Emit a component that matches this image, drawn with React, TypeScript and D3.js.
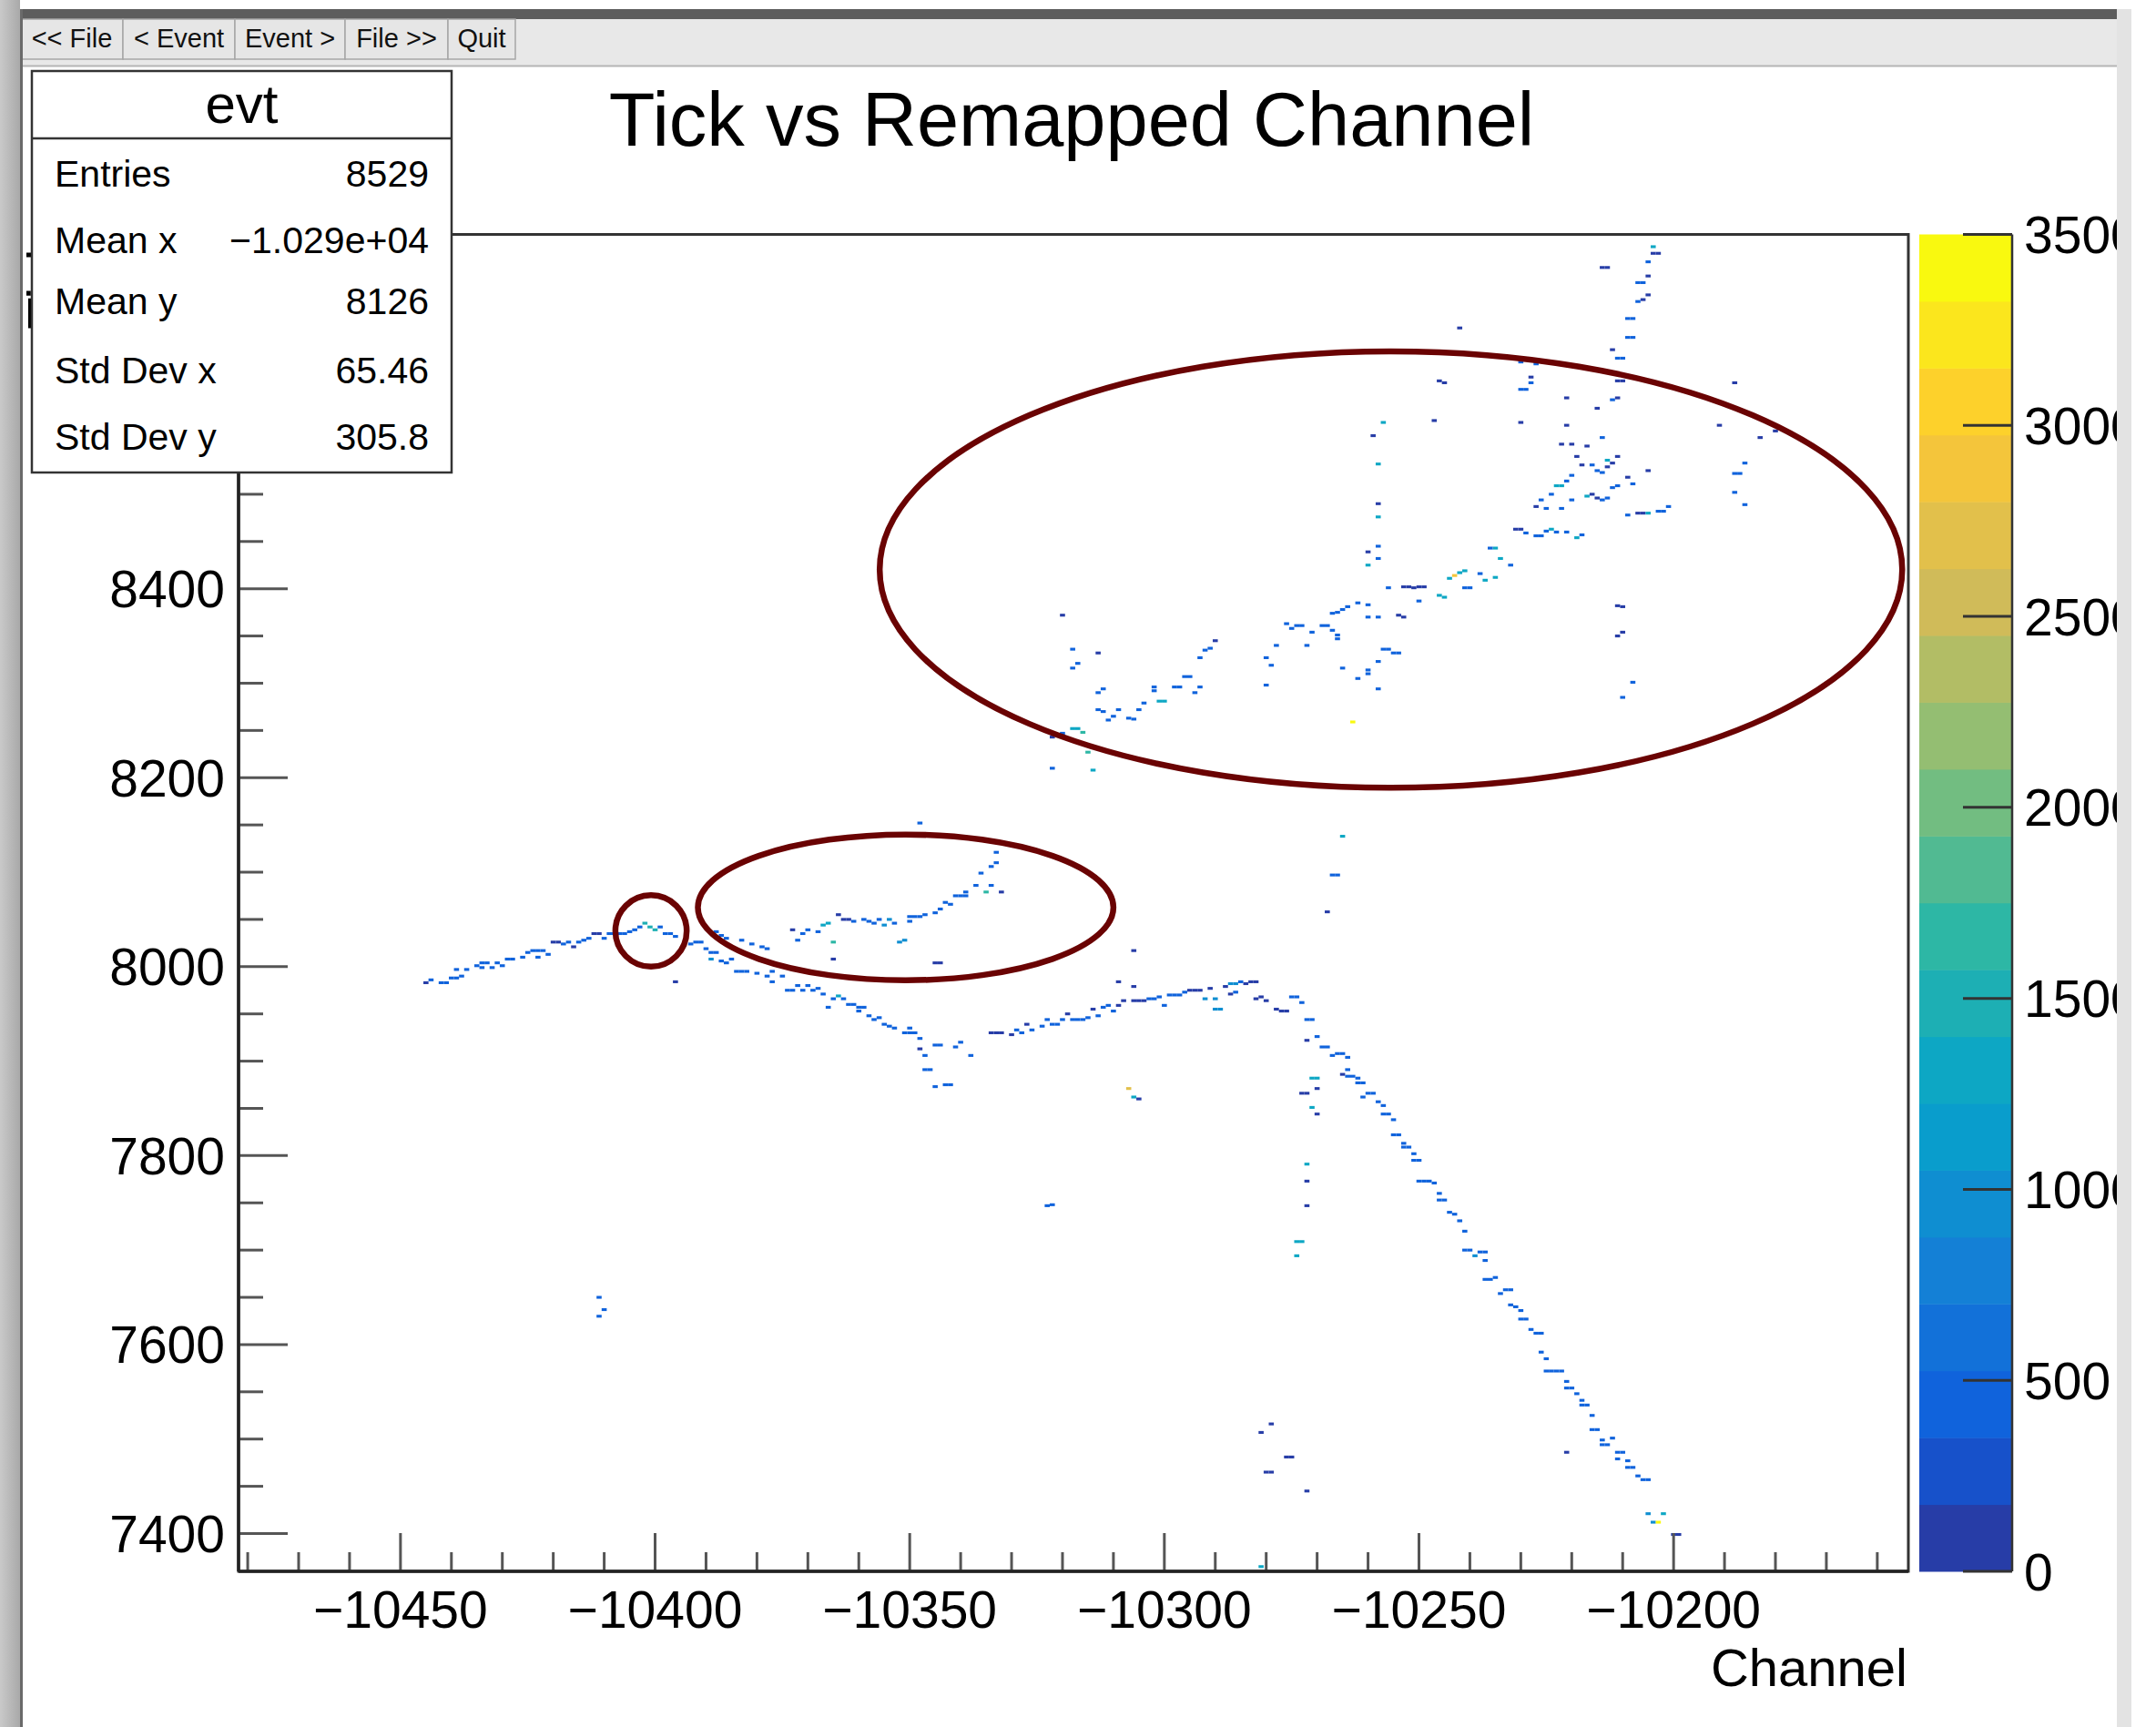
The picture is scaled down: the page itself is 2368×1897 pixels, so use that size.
import React from 'react';
import * as d3 from 'd3';

type Cell = [number, number, number]; // [channel, tick, summed ADC]

// Rising part of the induction track on the left, up to the kink
const leftTrack: Cell[] = [
  [-10445, 7983, 120], [-10444, 7986, 500], [-10442, 7983, 500], [-10441, 7983, 500],
  [-10440, 7988, 500], [-10439, 7988, 500], [-10439, 7997, 500], [-10438, 7990, 500],
  [-10437, 7997, 500], [-10435, 8001, 500], [-10434, 7999, 500], [-10434, 8004, 500],
  [-10433, 8004, 500], [-10432, 7999, 500], [-10431, 8004, 500], [-10430, 8001, 500],
  [-10429, 8008, 500], [-10428, 8008, 500], [-10426, 8010, 500], [-10425, 8015, 500],
  [-10424, 8017, 500], [-10423, 8010, 500], [-10423, 8017, 500], [-10422, 8017, 500],
  [-10421, 8013, 500], [-10420, 8026, 120], [-10419, 8026, 120], [-10418, 8024, 500],
  [-10417, 8026, 500], [-10416, 8021, 120], [-10415, 8026, 500], [-10414, 8028, 500],
  [-10413, 8030, 500], [-10412, 8035, 120], [-10411, 8035, 120], [-10410, 8030, 500],
  [-10409, 8035, 500], [-10408, 8035, 500], [-10407, 8035, 500], [-10406, 8035, 500],
  [-10405, 8037, 500], [-10404, 8039, 500], [-10403, 8042, 500], [-10402, 8046, 1500],
  [-10401, 8042, 1500], [-10400, 8039, 1500], [-10399, 8042, 500], [-10398, 8035, 500],
  [-10397, 8035, 500], [-10396, 8032, 500], [-10393, 8024, 500], [-10392, 8026, 500],
  [-10391, 8026, 500], [-10390, 8019, 500], [-10389, 8015, 500], [-10388, 8015, 500],
  [-10389, 8008, 950], [-10387, 8006, 500], [-10386, 8004, 500], [-10385, 8008, 500],
  [-10388, 8037, 500], [-10387, 8033, 500], [-10386, 8030, 500], [-10383, 8028, 500],
  [-10381, 8024, 500], [-10379, 8021, 500], [-10378, 8019, 500],
];

// Falling section between the kink and the valley
const descendingTrack: Cell[] = [
  [-10384, 7995, 500], [-10383, 7995, 500], [-10382, 7995, 500], [-10380, 7993, 500],
  [-10378, 7990, 500], [-10377, 7995, 500], [-10375, 7990, 500], [-10377, 7984, 500],
  [-10374, 7975, 500], [-10373, 7975, 500], [-10372, 7980, 500], [-10371, 7975, 500],
  [-10370, 7980, 500], [-10369, 7975, 500], [-10368, 7977, 500], [-10367, 7971, 500],
  [-10366, 7957, 500], [-10365, 7966, 500], [-10364, 7969, 1300], [-10363, 7966, 500],
  [-10362, 7960, 500], [-10361, 7960, 500], [-10360, 7957, 500], [-10359, 7957, 500],
  [-10360, 7953, 500], [-10358, 7948, 500], [-10357, 7944, 500], [-10356, 7946, 500],
  [-10355, 7939, 500], [-10354, 7937, 500], [-10353, 7935, 500], [-10351, 7930, 500],
  [-10350, 7935, 500], [-10350, 7930, 500], [-10349, 7930, 500], [-10348, 7924, 500],
  [-10348, 7913, 120], [-10347, 7906, 500], [-10347, 7891, 500], [-10346, 7891, 500],
  [-10345, 7873, 500], [-10343, 7875, 500], [-10342, 7875, 500], [-10345, 7917, 500],
  [-10344, 7917, 500], [-10341, 7915, 500], [-10340, 7920, 500], [-10338, 7906, 500],
];

// Branch climbing inside the middle ellipse
const branchTrack: Cell[] = [
  [-10373, 8039, 120], [-10372, 8028, 500], [-10371, 8035, 500], [-10370, 8039, 500],
  [-10368, 8037, 500], [-10367, 8044, 1300], [-10366, 8046, 1300], [-10365, 8026, 1650],
  [-10365, 8008, 120], [-10364, 8055, 120], [-10363, 8050, 120], [-10362, 8050, 120],
  [-10361, 8048, 500], [-10359, 8050, 500], [-10358, 8048, 500], [-10357, 8046, 500],
  [-10356, 8050, 500], [-10355, 8044, 950], [-10354, 8050, 950], [-10353, 8046, 500],
  [-10352, 8026, 950], [-10351, 8028, 950], [-10350, 8053, 500], [-10350, 8048, 500],
  [-10349, 8053, 500], [-10348, 8053, 500], [-10347, 8055, 500], [-10345, 8057, 500],
  [-10344, 8061, 500], [-10343, 8068, 500], [-10342, 8066, 500], [-10341, 8075, 500],
  [-10340, 8075, 500], [-10339, 8075, 500], [-10339, 8079, 500], [-10337, 8086, 500],
  [-10336, 8099, 500], [-10335, 8079, 1650], [-10334, 8086, 500], [-10334, 8106, 500],
  [-10333, 8110, 500], [-10333, 8121, 500], [-10332, 8079, 120],
];

// Slow rise towards the second kink
const middleTrack: Cell[] = [
  [-10334, 7930, 120], [-10333, 7930, 120], [-10332, 7930, 120], [-10330, 7928, 120],
  [-10329, 7933, 500], [-10328, 7930, 500], [-10327, 7939, 120], [-10326, 7933, 500],
  [-10324, 7937, 500], [-10323, 7944, 500], [-10322, 7939, 500], [-10321, 7939, 500],
  [-10320, 7944, 500], [-10319, 7950, 120], [-10318, 7944, 500], [-10317, 7944, 500],
  [-10316, 7944, 500], [-10315, 7946, 500], [-10314, 7955, 120], [-10313, 7948, 500],
  [-10312, 7957, 500], [-10311, 7959, 500], [-10310, 7953, 500], [-10309, 7959, 120],
  [-10308, 7964, 120], [-10306, 7964, 120], [-10305, 7964, 120], [-10304, 7964, 120],
  [-10303, 7966, 500], [-10302, 7966, 500], [-10301, 7968, 500], [-10300, 7959, 500],
  [-10299, 7970, 500], [-10298, 7970, 500], [-10297, 7970, 500], [-10296, 7973, 500],
  [-10295, 7975, 120], [-10294, 7975, 120], [-10293, 7975, 120], [-10292, 7966, 950],
  [-10291, 7977, 120], [-10290, 7966, 950], [-10290, 7955, 950], [-10289, 7955, 950],
  [-10288, 7979, 120], [-10287, 7971, 120], [-10287, 7982, 950], [-10286, 7982, 950],
  [-10286, 7973, 500], [-10285, 7984, 500], [-10284, 7982, 120], [-10283, 7984, 120],
  [-10282, 7984, 120], [-10282, 7966, 120], [-10281, 7968, 120], [-10280, 7964, 120],
  [-10278, 7955, 120], [-10277, 7953, 120], [-10276, 7953, 120], [-10275, 7968, 500],
  [-10274, 7968, 500], [-10273, 7962, 500], [-10272, 7944, 500], [-10271, 7944, 500],
  [-10272, 7922, 120], [-10270, 7926, 500],
];

// Long straight track running down to the lower right
const fallingTrack: Cell[] = [
  [-10269, 7915, 500], [-10268, 7915, 500], [-10267, 7906, 500], [-10266, 7908, 500],
  [-10265, 7908, 500], [-10264, 7904, 500], [-10264, 7891, 500], [-10265, 7886, 120],
  [-10264, 7884, 500], [-10263, 7884, 500], [-10262, 7882, 500], [-10262, 7877, 500],
  [-10261, 7877, 500], [-10260, 7866, 500], [-10259, 7866, 500], [-10261, 7862, 500],
  [-10258, 7857, 500], [-10257, 7853, 500], [-10257, 7844, 500], [-10256, 7844, 500],
  [-10255, 7838, 500], [-10255, 7822, 500], [-10254, 7822, 500], [-10253, 7813, 500],
  [-10253, 7809, 500], [-10252, 7809, 500], [-10251, 7802, 500], [-10251, 7795, 500],
  [-10250, 7795, 500], [-10250, 7773, 500], [-10249, 7773, 500], [-10248, 7773, 500],
  [-10247, 7771, 500], [-10246, 7760, 500], [-10246, 7753, 500], [-10245, 7753, 500],
  [-10244, 7740, 500], [-10243, 7738, 500], [-10242, 7731, 500], [-10241, 7720, 500],
  [-10241, 7700, 500], [-10240, 7700, 500], [-10239, 7694, 950], [-10238, 7698, 500],
  [-10237, 7698, 500], [-10237, 7689, 500], [-10237, 7669, 500], [-10236, 7669, 500],
  [-10235, 7671, 500], [-10234, 7654, 500], [-10233, 7658, 500], [-10232, 7658, 500],
  [-10232, 7642, 500], [-10231, 7640, 500], [-10230, 7636, 500], [-10230, 7627, 500],
  [-10229, 7627, 500], [-10228, 7616, 500], [-10227, 7612, 500], [-10226, 7612, 500],
  [-10226, 7592, 500], [-10225, 7585, 500], [-10225, 7572, 500], [-10224, 7572, 500],
  [-10223, 7572, 500], [-10222, 7572, 500], [-10221, 7561, 500], [-10221, 7554, 500],
  [-10220, 7554, 500], [-10219, 7548, 500], [-10218, 7541, 500], [-10218, 7536, 500],
  [-10217, 7536, 500], [-10216, 7525, 500], [-10216, 7510, 500], [-10215, 7510, 500],
  [-10214, 7499, 500], [-10214, 7494, 500], [-10213, 7494, 500], [-10212, 7501, 500],
  [-10211, 7479, 500], [-10211, 7486, 500], [-10210, 7486, 500], [-10209, 7477, 500],
  [-10209, 7470, 500], [-10208, 7470, 500], [-10207, 7461, 500], [-10206, 7457, 500],
  [-10205, 7457, 500], [-10205, 7421, 950], [-10202, 7421, 1300], [-10204, 7412, 950],
  [-10203, 7412, 3400], [-10200, 7399, 120], [-10199, 7399, 120],
];

// Shower activity inside the large ellipse
const showerCells: Cell[] = [
  [-10322, 8243, 120], [-10320, 8247, 500], [-10318, 8252, 1300], [-10317, 8252, 1300],
  [-10316, 8248, 1650], [-10315, 8227, 1650], [-10322, 8210, 500], [-10314, 8208, 1300],
  [-10320, 8372, 120], [-10318, 8336, 500], [-10317, 8321, 500], [-10318, 8316, 500],
  [-10313, 8332, 120], [-10313, 8290, 500], [-10312, 8294, 500], [-10313, 8272, 500],
  [-10312, 8270, 500], [-10310, 8265, 500], [-10311, 8261, 500], [-10309, 8272, 500],
  [-10307, 8263, 500], [-10306, 8262, 500], [-10305, 8272, 500], [-10304, 8279, 500],
  [-10301, 8281, 1300], [-10300, 8281, 1300], [-10302, 8296, 500], [-10302, 8292, 500],
  [-10298, 8296, 500], [-10297, 8296, 500], [-10293, 8296, 500], [-10294, 8290, 500],
  [-10296, 8307, 500], [-10295, 8307, 500], [-10293, 8327, 500], [-10292, 8335, 500],
  [-10291, 8337, 500], [-10290, 8345, 120], [-10280, 8327, 500], [-10279, 8319, 500],
  [-10280, 8298, 500], [-10278, 8340, 500], [-10276, 8363, 500], [-10275, 8358, 500],
  [-10274, 8361, 500], [-10273, 8361, 500], [-10272, 8340, 500], [-10271, 8354, 500],
  [-10269, 8361, 500], [-10268, 8361, 500], [-10267, 8356, 500], [-10266, 8351, 500],
  [-10266, 8347, 500], [-10267, 8374, 500], [-10266, 8375, 500], [-10265, 8378, 500],
  [-10264, 8381, 500], [-10265, 8316, 500], [-10262, 8385, 500], [-10260, 8383, 500],
  [-10262, 8305, 500], [-10260, 8310, 500], [-10260, 8314, 500], [-10258, 8323, 500],
  [-10257, 8336, 500], [-10256, 8336, 500], [-10255, 8332, 500], [-10254, 8332, 500],
  [-10258, 8294, 500], [-10260, 8370, 500], [-10258, 8370, 500], [-10254, 8372, 120],
  [-10253, 8370, 120], [-10263, 8259, 3400],
  [-10256, 8401, 500], [-10253, 8402, 120], [-10252, 8402, 120], [-10251, 8401, 120],
  [-10250, 8402, 120], [-10249, 8402, 120], [-10250, 8387, 500], [-10246, 8393, 1300],
  [-10245, 8391, 1300], [-10241, 8401, 500], [-10240, 8401, 500], [-10244, 8411, 1300],
  [-10243, 8414, 2950], [-10242, 8417, 1300], [-10241, 8419, 1300], [-10238, 8416, 500],
  [-10237, 8409, 1300], [-10235, 8412, 1300], [-10236, 8443, 500], [-10235, 8443, 1300],
  [-10234, 8432, 1300], [-10232, 8425, 500], [-10258, 8445, 500], [-10260, 8439, 120],
  [-10258, 8432, 500], [-10260, 8425, 1300], [-10258, 8490, 120], [-10258, 8476, 1300],
  [-10258, 8532, 1300], [-10259, 8562, 120], [-10257, 8576, 1300], [-10247, 8578, 120],
  [-10231, 8463, 120], [-10230, 8463, 120], [-10229, 8459, 500], [-10227, 8456, 500],
  [-10226, 8456, 500], [-10225, 8461, 500], [-10224, 8463, 1300], [-10223, 8460, 500],
  [-10221, 8460, 500], [-10219, 8454, 1300], [-10218, 8457, 500],
  [-10227, 8487, 120], [-10225, 8485, 500], [-10222, 8485, 500], [-10226, 8494, 500],
  [-10224, 8500, 500], [-10220, 8494, 500], [-10217, 8498, 1300], [-10216, 8500, 120],
  [-10215, 8496, 120], [-10214, 8494, 500], [-10213, 8496, 500], [-10223, 8509, 1300],
  [-10222, 8509, 1300], [-10221, 8514, 500], [-10220, 8520, 500], [-10212, 8507, 500],
  [-10211, 8509, 500], [-10208, 8511, 500], [-10209, 8518, 120], [-10205, 8525, 120],
  [-10215, 8525, 500], [-10214, 8523, 500], [-10213, 8529, 120], [-10213, 8536, 1300],
  [-10212, 8533, 120], [-10211, 8540, 120], [-10216, 8531, 500], [-10218, 8531, 120],
  [-10219, 8540, 120], [-10222, 8553, 120], [-10220, 8553, 120], [-10217, 8551, 120],
  [-10214, 8560, 500], [-10221, 8573, 120], [-10230, 8576, 120], [-10209, 8478, 500],
  [-10207, 8480, 120], [-10206, 8480, 120], [-10205, 8480, 1300], [-10203, 8482, 500],
  [-10202, 8482, 500], [-10201, 8487, 500], [-10188, 8522, 500], [-10187, 8522, 500],
  [-10186, 8533, 500], [-10188, 8502, 500], [-10186, 8489, 500], [-10191, 8573, 120],
  [-10183, 8560, 120], [-10180, 8567, 120], [-10188, 8618, 120], [-10246, 8620, 120],
  [-10245, 8618, 120], [-10228, 8624, 120], [-10228, 8618, 500], [-10230, 8611, 500],
  [-10229, 8611, 500], [-10230, 8640, 500], [-10227, 8638, 500], [-10221, 8602, 120],
  [-10212, 8600, 500], [-10211, 8602, 120], [-10215, 8591, 120], [-10211, 8620, 120],
  [-10210, 8620, 120], [-10211, 8382, 120], [-10210, 8381, 120], [-10210, 8354, 120],
  [-10211, 8350, 120], [-10208, 8301, 500], [-10210, 8285, 500],
];

// Near-vertical track at the top right
const topTrack: Cell[] = [
  [-10242, 8676, 120], [-10204, 8762, 1300], [-10204, 8755, 120], [-10203, 8755, 120],
  [-10205, 8746, 500], [-10214, 8740, 120], [-10213, 8740, 120], [-10205, 8731, 120],
  [-10207, 8724, 500], [-10206, 8724, 500], [-10205, 8711, 120], [-10206, 8706, 120],
  [-10207, 8704, 500], [-10209, 8686, 500], [-10208, 8686, 500], [-10209, 8666, 500],
  [-10208, 8666, 500], [-10212, 8653, 120], [-10211, 8644, 500], [-10210, 8644, 500],
];

// Isolated hits
const strayCells: Cell[] = [
  [-10271, 7882, 1300], [-10270, 7882, 1300], [-10270, 7871, 120], [-10273, 7866, 120],
  [-10272, 7866, 120], [-10271, 7851, 1300], [-10270, 7844, 120], [-10272, 7791, 1300],
  [-10272, 7773, 120], [-10272, 7747, 120], [-10274, 7709, 1300], [-10273, 7709, 1300],
  [-10274, 7694, 1300], [-10279, 7516, 120], [-10281, 7507, 120], [-10276, 7481, 120],
  [-10275, 7481, 120], [-10280, 7465, 120], [-10279, 7465, 120], [-10272, 7445, 120],
  [-10281, 7365, 1300], [-10221, 7486, 120], [-10307, 7871, 2700], [-10306, 7862, 1300],
  [-10305, 7860, 120], [-10323, 7747, 500], [-10322, 7748, 500], [-10411, 7650, 500],
  [-10410, 7637, 500], [-10411, 7630, 500], [-10396, 7984, 120], [-10309, 7984, 120],
  [-10306, 7979, 120], [-10306, 8017, 120], [-10345, 8004, 120], [-10344, 8004, 120],
  [-10348, 8152, 500], [-10268, 8058, 120], [-10267, 8097, 500], [-10266, 8097, 500],
  [-10265, 8138, 1300],
];

// Hand-drawn annotation rings: [centre channel, centre tick, half-width (channels), half-height (ticks)]
const annotationRings: [number, number, number, number][] = [
  [-10255.5, 8420.3, 100.4, 231],
  [-10350.8, 8062.7, 40.8, 77.1],
  [-10400.8, 8037.8, 7.0, 37.8],
];

const xDomain: [number, number] = [-10481.8, -10153.9];
const yDomain: [number, number] = [7360, 8775];
const zMax = 3500;
const nContours = 20;

const xMajorTicks = [-10450, -10400, -10350, -10300, -10250, -10200];
const yMajorTicks = [7400, 7600, 7800, 8000, 8200, 8400, 8600];
const zTicks = [0, 500, 1000, 1500, 2000, 2500, 3000, 3500];

const statLabels = ['Entries', 'Mean x', 'Mean y', 'Std Dev x', 'Std Dev y'];
const statValues = ['8529', '\u22121.029e+04', '8126', '65.46', '305.8'];

const toolbarButtons = ['<< File', '< Event', 'Event >', 'File >>', 'Quit'];

// ROOT "kBird" gradient
const birdStops = [0.0, 0.125, 0.25, 0.375, 0.5, 0.625, 0.75, 0.875, 1.0];
const birdRed = [0.2082, 0.0592, 0.078, 0.0232, 0.1802, 0.5301, 0.8186, 0.9956, 0.9764];
const birdGreen = [0.1664, 0.3599, 0.5041, 0.6419, 0.7178, 0.7492, 0.7328, 0.7862, 0.9832];
const birdBlue = [0.5293, 0.8684, 0.8385, 0.7914, 0.6425, 0.4662, 0.3499, 0.1968, 0.0539];

const FONT = '"Liberation Sans", Arial, Helvetica, sans-serif';
const W = 2368;
const H = 1897;

const frame = { left: 262, right: 2096, top: 257.5, bottom: 1726 };
const paletteBox = { left: 2108, right: 2210 };
const buttonEdges = [23, 135, 258, 379, 492, 566];
const statBaselines = [205, 278, 345, 421, 494];

const minus = (v: number) => String(v).replace('-', '\u2212');

export default function App() {
  const x = d3.scaleLinear().domain(xDomain).range([frame.left, frame.right]);
  const y = d3.scaleLinear().domain(yDomain).range([frame.bottom, frame.top]);
  const z = d3.scaleLinear().domain([0, zMax]).range([frame.bottom, frame.top]);

  const bird = d3
    .scaleLinear<string>()
    .domain(birdStops)
    .range(birdStops.map((_, i) => d3.rgb(birdRed[i] * 255, birdGreen[i] * 255, birdBlue[i] * 255).formatHex()))
    .interpolate(d3.interpolateRgb);
  const levelColors = d3.range(nContours).map((i) => bird(Math.floor(((i + 0.99) * 255) / nContours) / 255));
  const levelStep = zMax / nContours;
  const colorOf = (adc: number) => levelColors[Math.min(nContours - 1, Math.floor(adc / levelStep))];

  const cells = [
    ...leftTrack, ...descendingTrack, ...branchTrack, ...middleTrack,
    ...fallingTrack, ...showerCells, ...topTrack, ...strayCells,
  ];

  const xMinor = d3.range(-10480, -10150, 10).filter((v) => !xMajorTicks.includes(v));
  const yMinor = d3.range(7400, 8776, 50).filter((v) => !yMajorTicks.includes(v));

  const binHalfH = 1.5;

  return (
    <svg
      width={W}
      height={H}
      viewBox={`0 0 ${W} ${H}`}
      style={{ position: 'absolute', left: 0, top: 0, display: 'block', background: '#fff' }}
      fontFamily={FONT}
    >
      <defs>
        <clipPath id="frameClip">
          <rect x={frame.left} y={frame.top} width={frame.right - frame.left} height={frame.bottom - frame.top} />
        </clipPath>
        <clipPath id="titleSliver">
          <rect x={25} y={frame.top} width={10} height={200} />
        </clipPath>
        <linearGradient id="sideBar" x1="0" x2="1" y1="0" y2="0">
          <stop offset="0" stopColor="#c9c9c9" />
          <stop offset="1" stopColor="#a9a9a9" />
        </linearGradient>
      </defs>

      <rect x={0} y={0} width={W} height={H} fill="#fff" />

      {/* window toolbar */}
      <rect x={22} y={10} width={2319} height={11} fill="#5d5d5d" />
      <rect x={22} y={21} width={2319} height={51} fill="#e8e8e8" />
      {toolbarButtons.map((label, i) => (
        <g key={label}>
          <rect
            x={buttonEdges[i]}
            y={21}
            width={buttonEdges[i + 1] - buttonEdges[i]}
            height={44}
            fill="#e6e6e6"
            stroke="#a6a6a6"
            strokeWidth={1.5}
          />
          <text
            x={(buttonEdges[i] + buttonEdges[i + 1]) / 2}
            y={52}
            fontSize={29}
            textAnchor="middle"
            fill="#111"
          >
            {label}
          </text>
        </g>
      ))}
      <line x1={24} x2={2326} y1={72.5} y2={72.5} stroke="#b5b5b5" strokeWidth={2} />

      {/* frame */}
      <rect
        x={frame.left}
        y={frame.top}
        width={frame.right - frame.left}
        height={frame.bottom - frame.top}
        fill="#fff"
        stroke="#333"
        strokeWidth={3}
      />

      {/* histogram cells */}
      <g clipPath="url(#frameClip)">
        {cells.map(([ch, tk, adc], i) => (
          <rect
            key={i}
            x={x(ch - 0.5)}
            y={y(tk + binHalfH)}
            width={x(ch + 0.5) - x(ch - 0.5)}
            height={y(tk - binHalfH) - y(tk + binHalfH)}
            fill={colorOf(adc)}
          />
        ))}
      </g>

      {/* annotation rings */}
      {annotationRings.map(([cx, cy, rx, ry], i) => (
        <ellipse
          key={i}
          cx={x(cx)}
          cy={y(cy)}
          rx={x(cx + rx) - x(cx)}
          ry={y(cy) - y(cy + ry)}
          fill="none"
          stroke="#6a0303"
          strokeWidth={6.5}
        />
      ))}

      {/* x axis */}
      {xMajorTicks.map((v) => (
        <g key={v}>
          <line x1={x(v)} x2={x(v)} y1={frame.bottom} y2={frame.bottom - 42} stroke="#555" strokeWidth={3} />
          <text x={x(v)} y={1788} fontSize={57} textAnchor="middle" fill="#000">
            {minus(v)}
          </text>
        </g>
      ))}
      {xMinor.map((v) => (
        <line key={v} x1={x(v)} x2={x(v)} y1={frame.bottom} y2={frame.bottom - 21} stroke="#555" strokeWidth={3} />
      ))}
      <text x={frame.right - 1} y={1852} fontSize={58} textAnchor="end" fill="#000">
        Channel
      </text>

      {/* y axis */}
      {yMajorTicks.map((v) => (
        <g key={v}>
          <line x1={frame.left} x2={frame.left + 54} y1={y(v)} y2={y(v)} stroke="#555" strokeWidth={3} />
          <text x={247} y={y(v) + 20.5} fontSize={57} textAnchor="end" fill="#000">
            {v}
          </text>
        </g>
      ))}
      {yMinor.map((v) => (
        <line key={v} x1={frame.left} x2={frame.left + 27} y1={y(v)} y2={y(v)} stroke="#555" strokeWidth={3} />
      ))}
      <line x1={frame.left} x2={frame.left} y1={frame.top} y2={frame.bottom} stroke="#222" strokeWidth={3.5} />
      <line x1={frame.left} x2={frame.right} y1={frame.bottom} y2={frame.bottom} stroke="#222" strokeWidth={3.5} />
      {/* axis title, mostly hidden by the window edge and the statistics box */}
      <g clipPath="url(#titleSliver)">
        <text transform={`translate(71, ${frame.top}) rotate(-90)`} fontSize={58} textAnchor="end" fill="#000">
          Tick
        </text>
      </g>

      {/* title */}
      <text x={1177} y={160} fontSize={83} textAnchor="middle" fill="#000">
        Tick vs Remapped Channel
      </text>

      {/* statistics box */}
      <rect x={35} y={78} width={461} height={441} fill="#fff" stroke="#333" strokeWidth={2.5} />
      <line x1={35} x2={496} y1={152} y2={152} stroke="#333" strokeWidth={2.5} />
      <text x={265.5} y={135} fontSize={60} textAnchor="middle" fill="#000">
        evt
      </text>
      {statLabels.map((label, i) => (
        <g key={label}>
          <text x={60} y={statBaselines[i]} fontSize={41} fill="#000">
            {label}
          </text>
          <text x={471} y={statBaselines[i]} fontSize={41} textAnchor="end" fill="#000">
            {statValues[i]}
          </text>
        </g>
      ))}

      {/* colour palette */}
      {levelColors.map((c, i) => (
        <rect
          key={i}
          x={paletteBox.left}
          y={z((i + 1) * levelStep)}
          width={paletteBox.right - paletteBox.left}
          height={z(i * levelStep) - z((i + 1) * levelStep) + 0.5}
          fill={c}
        />
      ))}
      <line x1={paletteBox.right} x2={paletteBox.right} y1={frame.top} y2={frame.bottom} stroke="#333" strokeWidth={2.5} />
      {zTicks.map((v) => (
        <g key={v}>
          <line x1={paletteBox.right - 54} x2={paletteBox.right} y1={z(v)} y2={z(v)} stroke="#333" strokeWidth={3} />
          <text x={2223} y={z(v) + 20.5} fontSize={57} fill="#000">
            {v}
          </text>
        </g>
      ))}

      {/* window edges */}
      <rect x={2325} y={10} width={16} height={H - 10} fill="#e3e3e3" />
      <rect x={2341} y={0} width={W - 2341} height={H} fill="#fff" />
      <rect x={0} y={0} width={22} height={H} fill="url(#sideBar)" />
      <rect x={22} y={10} width={3} height={H - 10} fill="#6a6a6a" />
    </svg>
  );
}
